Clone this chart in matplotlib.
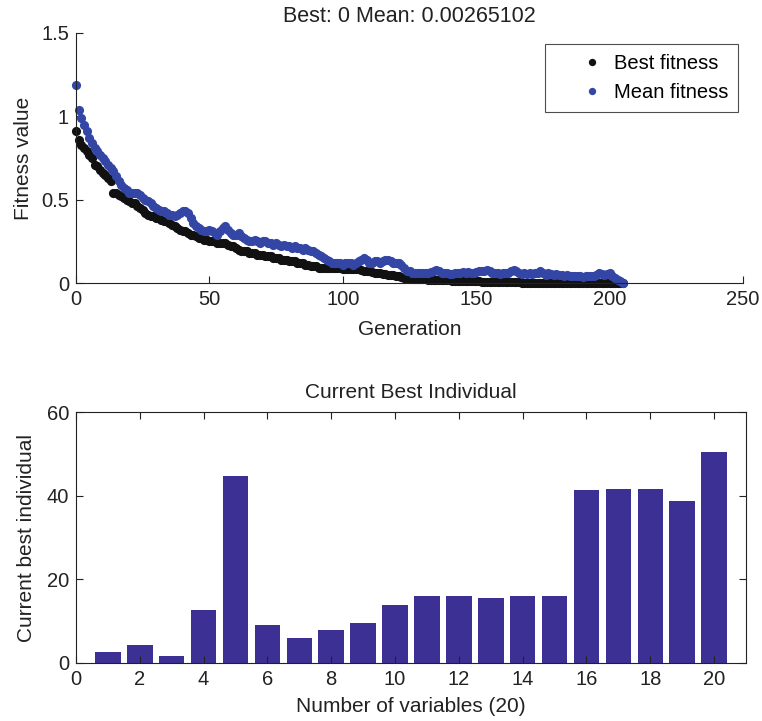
import matplotlib
matplotlib.use("Agg")
import matplotlib.pyplot as plt
from matplotlib.legend_handler import HandlerLine2D

plt.rcParams['font.family'] = ['Liberation Sans', 'DejaVu Sans']

# Fitness history per generation
best_fitness = [
    0.91, 0.86, 0.83, 0.81, 0.79, 0.77, 0.75, 0.71, 0.70, 0.68,
    0.66, 0.65, 0.63, 0.61, 0.54, 0.54, 0.53, 0.52, 0.51, 0.50,
    0.49, 0.48, 0.48, 0.46, 0.45, 0.44, 0.42, 0.41, 0.40, 0.40,
    0.39, 0.39, 0.38, 0.37, 0.37, 0.36, 0.35, 0.34, 0.33, 0.32,
    0.31, 0.31, 0.30, 0.29, 0.29, 0.28, 0.27, 0.27, 0.26, 0.26,
    0.25, 0.25, 0.25, 0.24, 0.24, 0.24, 0.24, 0.23, 0.22, 0.22,
    0.21, 0.20, 0.19, 0.19, 0.19, 0.18, 0.18, 0.18, 0.17, 0.17,
    0.17, 0.16, 0.16, 0.16, 0.15, 0.15, 0.15, 0.14, 0.14, 0.14,
    0.13, 0.13, 0.13, 0.12, 0.12, 0.12, 0.11, 0.11, 0.10, 0.10,
    0.10, 0.09, 0.09, 0.09, 0.09, 0.09, 0.09, 0.088, 0.088, 0.088,
    0.087, 0.087, 0.087, 0.086, 0.086, 0.085, 0.085, 0.08, 0.075, 0.07,
    0.07, 0.065, 0.06, 0.06, 0.06, 0.055, 0.055, 0.05, 0.05, 0.05,
    0.045, 0.04, 0.035, 0.03, 0.03, 0.028, 0.027, 0.026, 0.025, 0.024,
    0.023, 0.022, 0.021, 0.020, 0.020, 0.020, 0.019, 0.018, 0.018, 0.017,
    0.016, 0.015, 0.012, 0.012, 0.012, 0.012, 0.012, 0.012, 0.011, 0.011,
    0.010, 0.010, 0.009, 0.008, 0.007, 0.007, 0.006, 0.006, 0.006, 0.005,
    0.005, 0.005, 0.005, 0.004, 0.004, 0.004, 0.004, 0.003, 0.003, 0.003,
    0.003, 0.002, 0.002, 0.002, 0.002, 0.002, 0.002, 0.002, 0.002, 0.002,
    0.002, 0.0015, 0.0015, 0.0015, 0.0015, 0.0015, 0.0015, 0.0015, 0.0015, 0.001,
    0.001, 0.001, 0.001, 0.001, 0.001, 0.001, 0.001, 0.0005, 0.0005, 0.0005,
    0.0005, 0.0005, 0.0005, 0.0, 0.0, 0.0,
]

mean_fitness = [
    1.19, 1.04, 0.99, 0.95, 0.91, 0.87, 0.84, 0.81, 0.79, 0.77,
    0.75, 0.73, 0.71, 0.69, 0.67, 0.64, 0.61, 0.59, 0.57, 0.56,
    0.54, 0.54, 0.54, 0.54, 0.53, 0.51, 0.50, 0.49, 0.48, 0.46,
    0.45, 0.44, 0.43, 0.43, 0.42, 0.41, 0.41, 0.40, 0.41, 0.42,
    0.43, 0.43, 0.42, 0.39, 0.36, 0.34, 0.33, 0.32, 0.31, 0.31,
    0.32, 0.31, 0.30, 0.29, 0.31, 0.33, 0.34, 0.32, 0.30, 0.29,
    0.29, 0.30, 0.28, 0.27, 0.26, 0.25, 0.25, 0.26, 0.25, 0.24,
    0.25, 0.25, 0.24, 0.24, 0.23, 0.24, 0.23, 0.22, 0.23, 0.22,
    0.22, 0.21, 0.22, 0.21, 0.21, 0.20, 0.21, 0.20, 0.19, 0.19,
    0.18, 0.17, 0.16, 0.15, 0.14, 0.13, 0.12, 0.12, 0.12, 0.12,
    0.11, 0.12, 0.12, 0.12, 0.11, 0.12, 0.13, 0.14, 0.15, 0.14,
    0.12, 0.12, 0.13, 0.13, 0.12, 0.13, 0.14, 0.14, 0.13, 0.12,
    0.12, 0.12, 0.11, 0.09, 0.07, 0.07, 0.06, 0.06, 0.06, 0.06,
    0.06, 0.06, 0.06, 0.065, 0.07, 0.08, 0.07, 0.06, 0.06, 0.06,
    0.055, 0.055, 0.06, 0.06, 0.06, 0.065, 0.06, 0.065, 0.06, 0.06,
    0.065, 0.07, 0.07, 0.075, 0.08, 0.07, 0.06, 0.06, 0.06, 0.055,
    0.06, 0.06, 0.06, 0.07, 0.08, 0.07, 0.06, 0.055, 0.06, 0.055,
    0.06, 0.055, 0.06, 0.06, 0.07, 0.06, 0.05, 0.06, 0.055, 0.05,
    0.055, 0.05, 0.05, 0.045, 0.05, 0.045, 0.04, 0.04, 0.045, 0.04,
    0.035, 0.04, 0.045, 0.04, 0.045, 0.05, 0.06, 0.055, 0.05, 0.055,
    0.06, 0.045, 0.03, 0.02, 0.01, 0.00265102,
]

generations = list(range(len(best_fitness)))

# Best individual found (one value per decision variable)
variable_index = list(range(1, 21))
best_individual = [
    2.6, 4.2, 1.6, 12.6, 44.7, 9.0, 5.9, 7.8, 9.5, 13.8,
    16.0, 16.0, 15.5, 16.0, 16.0, 41.4, 41.6, 41.6, 38.7, 50.5,
]


class MarkerRightHandler(HandlerLine2D):
    """Legend handler that puts the single marker near the text."""

    def create_artists(self, legend, orig_handle, xdescent, ydescent,
                       width, height, fontsize, trans):
        artists = super().create_artists(legend, orig_handle, xdescent,
                                         ydescent, width, height,
                                         fontsize, trans)
        for a in artists:
            a.set_xdata([0.76 * width - xdescent])
        return artists


W, H = 762, 721
fig = plt.figure(figsize=(W / 100, H / 100), dpi=100)

fs = 14.5
blue = '#3346a6'
bar_color = '#3d3095'
ink = '#222222'

# --- fitness history ---
ax1 = fig.add_axes([76 / W, 1 - 283 / H, (743 - 76) / W, 250 / H])
h_best, = ax1.plot(generations, best_fitness, 'o', color='#111111', ms=6.6,
                   mec='none', label='Best fitness', clip_on=False)
h_mean, = ax1.plot(generations, mean_fitness, 'o', color=blue, ms=6.6,
                   mec='none', label='Mean fitness', clip_on=False)
ax1.set_xlim(0, 250)
ax1.set_ylim(0, 1.5)
ax1.set_xticks([0, 50, 100, 150, 200, 250])
ax1.set_yticks([0, 0.5, 1, 1.5])
ax1.set_yticklabels(['0', '0.5', '1', '1.5'])
ax1.spines['top'].set_visible(False)
ax1.spines['right'].set_visible(False)
for s in ('left', 'bottom'):
    ax1.spines[s].set_linewidth(0.8)
    ax1.spines[s].set_color(ink)
ax1.tick_params(direction='in', length=5, width=0.8, labelsize=fs,
                colors=ink, pad=5)
ax1.set_xlabel('Generation', fontsize=fs + 0.5, color=ink, labelpad=8)
ax1.set_ylabel('Fitness value', fontsize=fs + 0.5, color=ink, labelpad=6)
ax1.set_title('Best: 0 Mean: 0.00265102', fontsize=fs + 1, color=ink, pad=8)
leg = ax1.legend(loc='upper right', bbox_to_anchor=(738 / W, 1 - 44 / H),
                 bbox_transform=fig.transFigure, borderaxespad=0,
                 fontsize=fs, fancybox=False, frameon=True,
                 handletextpad=0.5, borderpad=0.5, labelspacing=0.5,
                 handlelength=2.4, markerscale=0.8,
                 handler_map={h_best: MarkerRightHandler(numpoints=1),
                              h_mean: MarkerRightHandler(numpoints=1)})
leg.get_frame().set_edgecolor(ink)
leg.get_frame().set_linewidth(0.8)

# --- best individual ---
ax2 = fig.add_axes([76 / W, 1 - 663 / H, (746 - 76) / W, 251 / H])
ax2.bar(variable_index, best_individual, width=0.8, color=bar_color,
        edgecolor='none')
ax2.set_xlim(0, 21)
ax2.set_ylim(0, 60)
ax2.set_xticks(list(range(0, 21, 2)))
ax2.set_yticks([0, 20, 40, 60])
for s in ax2.spines.values():
    s.set_linewidth(0.8)
    s.set_color(ink)
ax2.tick_params(direction='in', length=5, width=0.8, labelsize=fs,
                colors=ink, top=True, right=True, pad=5)
ax2.set_xlabel('Number of variables (20)', fontsize=fs + 0.5,
               color=ink, labelpad=6)
ax2.set_ylabel('Current best individual', fontsize=fs + 0.5,
               color=ink, labelpad=8)
ax2.set_title('Current Best Individual', fontsize=fs + 0.5, color=ink, pad=10)

fig.savefig('out.png', dpi=100)
